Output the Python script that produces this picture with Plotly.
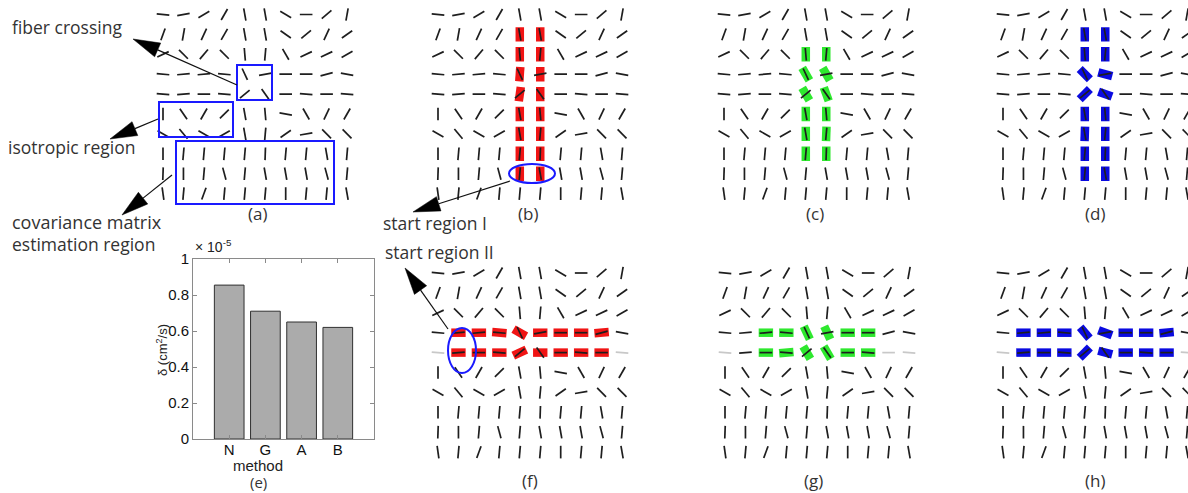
import math
import plotly.graph_objects as go

W, H = 1188, 493

# ---------------- data ----------------
# principal-direction field (degrees from horizontal, + = counter-clockwise); rows top -> bottom
ANGLES = [
    [-5, 10, 30, 60, -80, -80, -30, 0, 40, 80],
    [70, 80, 65, 60, -80, -80, -35, 40, 65, 35],
    [25, -45, 50, -45, -85, 85, -60, 25, 25, 30],
    [-5, 5, 5, -5, -65, 10, 0, 0, 15, -10],
    [-5, 5, 0, -5, 40, -55, 0, -5, 0, -5],
    [90, -55, 60, 45, -80, -85, -10, -60, 65, 60],
    [-30, -50, -30, 30, -80, 85, 35, 10, -45, -45],
    [90, 85, 85, 85, 85, 88, 85, 85, -80, 85],
    [88, 90, 85, -75, 85, -80, -80, -80, -75, 85],
    [-82, 85, 70, 85, 85, 85, 90, 85, 85, -80],
]

# tracked fibers: (row, col, angle)
TRACK_B = [
    (2, 5, 90), (3, 5, 90), (4, 5, 86), (5, 5, 82), (6, 5, 90), (7, 5, 90), (8, 5, 90), (9, 5, 90),
    (2, 6, 90), (3, 6, 90), (4, 6, 90), (5, 6, 90), (6, 6, 90), (7, 6, 90), (8, 6, 90), (9, 6, 90)]
TRACK_C = [
    (3, 5, 90), (4, 5, -60), (5, 5, -60), (6, 5, 90), (7, 5, 90), (8, 5, 90),
    (3, 6, 90), (4, 6, -60), (5, 6, -70), (6, 6, 90), (7, 6, 88), (8, 6, 90)]
TRACK_D = [
    (2, 5, 90), (3, 5, 90), (4, 5, -45), (5, 5, 45), (6, 5, 90), (7, 5, 88), (8, 5, 90), (9, 5, 90),
    (2, 6, 90), (3, 6, 90), (4, 6, -15), (5, 6, -20), (6, 6, 90), (7, 6, 90), (8, 6, 90), (9, 6, 90)]
TRACK_F = [
    (4, 2, 0), (4, 3, 0), (4, 4, -5), (4, 5, -30), (4, 6, 0), (4, 7, 0), (4, 8, 0), (4, 9, 5),
    (5, 2, 0), (5, 3, 0), (5, 4, 0), (5, 5, 25), (5, 6, 0), (5, 7, 0), (5, 8, 0), (5, 9, 0)]
TRACK_G = [
    (4, 3, 0), (4, 4, 0), (4, 5, -65), (4, 6, -65), (4, 7, 0), (4, 8, 0),
    (5, 3, 0), (5, 4, 5), (5, 5, -60), (5, 6, -60), (5, 7, 0), (5, 8, 0)]
TRACK_H = [
    (4, 2, 0), (4, 3, 0), (4, 4, 0), (4, 5, -50), (4, 6, -20), (4, 7, 0), (4, 8, 0), (4, 9, 5),
    (5, 2, 0), (5, 3, 0), (5, 4, 0), (5, 5, 45), (5, 6, -15), (5, 7, 0), (5, 8, 0), (5, 9, 0)]

GRAY_F = [(5, 1), (5, 10)]
GRAY_G = [(5, 1), (5, 9), (5, 10)]
GRAY_H = [(5, 1), (5, 10)]

# bar chart (e)
METHODS = ["N", "G", "A", "B"]
DELTA_E5 = [0.855, 0.71, 0.65, 0.62]   # delta in units of 1e-5 cm^2/s
Y_TICKS = [0, 0.2, 0.4, 0.6, 0.8, 1]

# ---------------- layout helpers ----------------
SX, SY = 20.45, 19.9
BLACK_HALF = 6.3
TRACK_HALF = 7.2


def px_x(x):
    return x / W


def px_y(y):
    return 1 - y / H


PANELS = [
    # name, first column px, first row px, track, track colour, gray cells
    ("a", 163, 14.5, [], None, []),
    ("b", 438, 14.5, TRACK_B, "#f01414", []),
    ("c", 724, 14.5, TRACK_C, "#2ee82e", []),
    ("d", 1003, 14.5, TRACK_D, "#0a0ae0", []),
    ("f", 438, 273, TRACK_F, "#f01414", GRAY_F),
    ("g", 725, 273, TRACK_G, "#2ee82e", GRAY_G),
    ("h", 1003, 273, TRACK_H, "#0a0ae0", GRAY_H),
]

fig = go.Figure()
layout = dict(width=W, height=H, autosize=False, margin=dict(l=0, r=0, t=0, b=0, pad=0),
              paper_bgcolor="white", plot_bgcolor="white", showlegend=False)


def seg(row, col, ang, half):
    t = math.radians(ang)
    dx = half * math.cos(t) / SX
    dy = half * math.sin(t) / SY
    return [col - dx, col + dx, None], [row + dy, row - dy, None]


for i, (name, X0, Y0, track, tcol, gray) in enumerate(PANELS):
    k = i + 1
    xs = "" if k == 1 else str(k)
    pxl, pxh = X0 - 14, min(X0 + 9 * SX + 14, W)
    pyl, pyh = Y0 - 14, Y0 + 9 * SY + 14
    layout["xaxis" + xs] = dict(domain=[px_x(pxl), px_x(pxh)],
                                range=[1 + (pxl - X0) / SX, 1 + (pxh - X0) / SX],
                                visible=False, anchor="y" + xs, fixedrange=True)
    layout["yaxis" + xs] = dict(domain=[px_y(pyh), px_y(pyl)],
                                range=[1 + (pyh - Y0) / SY, 1 + (pyl - Y0) / SY],
                                visible=False, anchor="x" + xs, fixedrange=True)
    if track:
        tx, ty = [], []
        for (r, c, a) in track:
            sx_, sy_ = seg(r, c, a, TRACK_HALF)
            tx += sx_
            ty += sy_
        fig.add_trace(go.Scatter(x=tx, y=ty, mode="lines", hoverinfo="skip",
                                 line=dict(color=tcol, width=8.5),
                                 xaxis="x" + xs, yaxis="y" + xs))
    bx, by, gx, gy = [], [], [], []
    for r in range(10):
        for c in range(10):
            sx_, sy_ = seg(r + 1, c + 1, ANGLES[r][c], BLACK_HALF)
            if (r + 1, c + 1) in gray:
                gx += sx_
                gy += sy_
            else:
                bx += sx_
                by += sy_
    fig.add_trace(go.Scatter(x=bx, y=by, mode="lines", hoverinfo="skip",
                             line=dict(color="#1e1e1e", width=1.7),
                             xaxis="x" + xs, yaxis="y" + xs))
    if gx:
        fig.add_trace(go.Scatter(x=gx, y=gy, mode="lines", hoverinfo="skip",
                                 line=dict(color="#c8c8c8", width=1.7),
                                 xaxis="x" + xs, yaxis="y" + xs))

# bar chart panel (e)
fig.add_trace(go.Bar(x=METHODS, y=DELTA_E5, width=0.82, hoverinfo="skip",
                     marker=dict(color="#ababab", line=dict(color="#303030", width=1)),
                     xaxis="x8", yaxis="y8"))
tickfont = dict(family="Liberation Sans, Arial", size=15, color="#111111")
layout["xaxis8"] = dict(domain=[px_x(193), px_x(374)], anchor="y8", type="category",
                        range=[-1, 4], autorange=False, showline=True, linecolor="#8a8a8a",
                        linewidth=1, mirror="ticks", ticks="inside", ticklen=4,
                        tickcolor="#8a8a8a", showgrid=False, zeroline=False,
                        tickfont=tickfont, ticklabelstandoff=-3,
                        fixedrange=True, automargin=False)
layout["yaxis8"] = dict(domain=[px_y(439), px_y(259)], anchor="x8", range=[0, 1],
                        autorange=False, tickvals=Y_TICKS, ticktext=[f"{v:g}" for v in Y_TICKS],
                        showline=True, linecolor="#8a8a8a", linewidth=1,
                        mirror="ticks", ticks="inside", ticklen=4, tickcolor="#8a8a8a",
                        showgrid=False, zeroline=False, tickfont=tickfont,
                        fixedrange=True, automargin=False)

# ---------------- annotations ----------------
shapes = []
annots = []
BLUE = "#1a1aff"


def rect(x0, y0, x1, y1):
    shapes.append(dict(type="rect", xref="paper", yref="paper",
                       x0=px_x(x0), x1=px_x(x1), y0=px_y(y1), y1=px_y(y0),
                       line=dict(color=BLUE, width=2)))


def ellipse(x0, y0, x1, y1):
    shapes.append(dict(type="circle", xref="paper", yref="paper",
                       x0=px_x(x0), x1=px_x(x1), y0=px_y(y1), y1=px_y(y0),
                       line=dict(color=BLUE, width=2)))


def arrow(sx, sy, tx, ty, hl=27, hw=7.5):
    L = math.hypot(tx - sx, ty - sy)
    ux, uy = (tx - sx) / L, (ty - sy) / L
    bx, by = tx - ux * hl, ty - uy * hl
    nx, ny = -uy, ux
    shapes.append(dict(type="line", xref="paper", yref="paper",
                       x0=px_x(sx), y0=px_y(sy), x1=px_x(bx), y1=px_y(by),
                       line=dict(color="#111111", width=1.2)))
    pts = [(tx, ty), (bx + nx * hw, by + ny * hw), (bx - nx * hw, by - ny * hw)]
    path = "M " + " L ".join(f"{px_x(x):.5f} {px_y(y):.5f}" for x, y in pts) + " Z"
    shapes.append(dict(type="path", xref="paper", yref="paper", path=path,
                       fillcolor="#000000", line=dict(color="#000000", width=0.5)))


def text(x, y, s, size=17.5, anchor="left", color="#333333", family="Open Sans", angle=0):
    annots.append(dict(xref="paper", yref="paper", x=px_x(x), y=px_y(y), text=s,
                       showarrow=False, xanchor=anchor, yanchor="middle", textangle=angle,
                       font=dict(family=family, size=size, color=color)))


rect(237, 65, 272, 100)
rect(159, 102, 233, 137)
rect(176, 141, 334, 204)
ellipse(509, 164, 555, 183)
ellipse(448, 328, 476, 373)

arrow(237, 85, 133, 39)
arrow(158, 119, 110, 139)
arrow(172, 175, 122, 215)
arrow(510, 181, 413, 212)
arrow(448, 329, 405, 268)

text(10, 27, "fiber crossing")
text(6, 147, "isotropic region")
text(10, 222, "covariance matrix", size=18)
text(10, 244, "estimation region")
text(381, 223, "start region I")
text(383, 252, "start region II")

for lab, x, y in [("(a)", 257, 214), ("(b)", 528, 214), ("(c)", 815, 214), ("(d)", 1095, 214),
                  ("(f)", 530, 480), ("(g)", 813, 480), ("(h)", 1095, 480)]:
    text(x, y, lab, size=17, anchor="center")
text(258, 482, "(e)", size=15, anchor="center")

text(193, 246, "× 10<sup>-5</sup>", size=14, family="Liberation Sans, Arial", color="#222222")
text(162, 350, "δ (cm<sup>2</sup>/s)", size=13, anchor="center",
     family="Liberation Sans, Arial", color="#222222", angle=-90)
text(258, 465, "method", size=15, anchor="center", family="Liberation Sans, Arial",
     color="#222222")

layout["shapes"] = shapes
layout["annotations"] = annots
fig.update_layout(**layout)
fig.write_html("out.html", config={"responsive": False, "displayModeBar": False},
               post_script="document.body.style.margin='0';document.body.style.overflow='hidden';")
